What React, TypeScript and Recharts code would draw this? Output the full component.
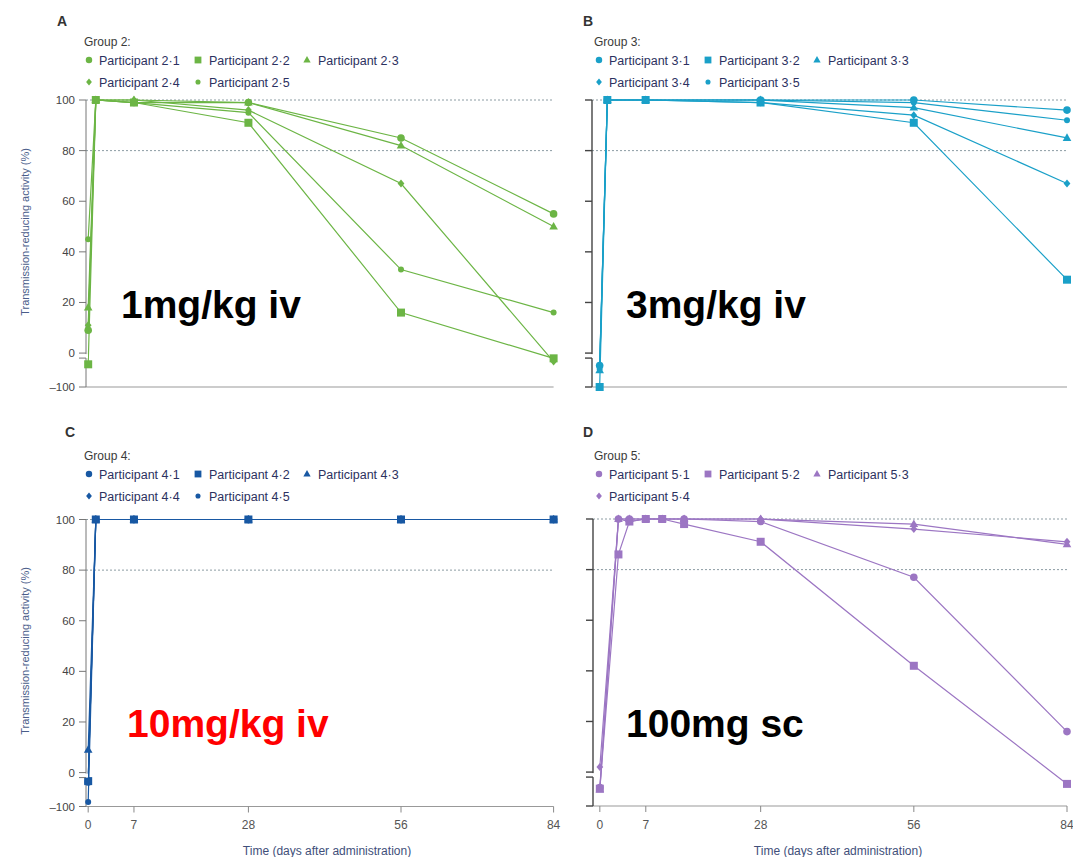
import React from "react";
import { LineChart, Line, XAxis, YAxis, ReferenceLine } from "recharts";

const FONT = '"Liberation Sans", Arial, sans-serif';

// broken y axis: everything below 0 is squeezed into a short strip under the break
const BREAK_GAP = 1.6;
const NEG_SCALE = 0.118;
const ty = (v: number) => (v >= 0 ? v : -BREAK_GAP + v * NEG_SCALE);

const PRE = -1.4; // baseline sample, drawn on the "0" tick

const daysIV = [PRE, 0, 7, 28, 56, 84];
const daysSC = [PRE, 2, 4, 7, 10, 14, 28, 56, 84];
const xTicks = [PRE, 7, 28, 56, 84];
const yTicks = [-100, 0, 20, 40, 60, 80, 100];
const refLines = [100, 80];

const shapes = ["circle", "square", "triangle", "diamond", "dot"];

// Group 2 - 1 mg/kg iv
const names2 = ["Participant 2·1", "Participant 2·2", "Participant 2·3", "Participant 2·4", "Participant 2·5"];
const p2_1 = [9, 100, 99, 99, 85, 55];
const p2_2 = [-24, 100, 99, 91, 16, -4];
const p2_3 = [18, 100, 100, 99, 82, 50];
const p2_4 = [11, 100, 100, 96, 67, -15];
const p2_5 = [45, 100, 99, 95, 33, 16];

// Group 3 - 3 mg/kg iv
const names3 = ["Participant 3·1", "Participant 3·2", "Participant 3·3", "Participant 3·4", "Participant 3·5"];
const p3_1 = [-28, 100, 100, 100, 100, 96];
const p3_2 = [-100, 100, 100, 99, 91, 29];
const p3_3 = [-44, 100, 100, 100, 97, 85];
const p3_4 = [-30, 100, 100, 99, 94, 67];
const p3_5 = [-40, 100, 100, 100, 99, 92];

// Group 4 - 10 mg/kg iv
const names4 = ["Participant 4·1", "Participant 4·2", "Participant 4·3", "Participant 4·4", "Participant 4·5"];
const p4_1 = [-18, 100, 100, 100, 100, 100];
const p4_2 = [-15, 100, 100, 100, 100, 100];
const p4_3 = [9, 100, 100, 100, 100, 100];
const p4_4 = [-12, 100, 100, 100, 100, 100];
const p4_5 = [-85, 100, 100, 100, 100, 100];

// Group 5 - 100 mg sc
const names5 = ["Participant 5·1", "Participant 5·2", "Participant 5·3", "Participant 5·4"];
const p5_1 = [-38, 100, 100, 100, 100, 100, 99, 77, 16];
const p5_2 = [-42, 86, 99, 100, 100, 98, 91, 42, -26];
const p5_3 = [-45, 100, 100, 100, 100, 100, 100, 98, 90];
const p5_4 = [2, 100, 99, 100, 100, 100, 100, 96, 91];

const GREEN = "#6cb545";
const CYAN = "#1aa0c8";
const BLUE = "#1858a3";
const PURPLE = "#9c76c3";

const Y_W = 45;

function Marker({ cx, cy, shape, color, s = 1 }: { cx: number; cy: number; shape: string; color: string; s?: number }) {
  if (cx == null || cy == null) return null;
  if (shape === "square") return <rect x={cx - 4 * s} y={cy - 4 * s} width={8 * s} height={8 * s} fill={color} />;
  if (shape === "triangle")
    return <path d={`M${cx},${cy - 4.6 * s}L${cx + 4.3 * s},${cy + 3 * s}L${cx - 4.3 * s},${cy + 3 * s}Z`} fill={color} />;
  if (shape === "diamond")
    return <path d={`M${cx},${cy - 4 * s}L${cx + 3.4 * s},${cy}L${cx},${cy + 4 * s}L${cx - 3.4 * s},${cy}Z`} fill={color} />;
  if (shape === "dot") return <circle cx={cx} cy={cy} r={3 * s} fill={color} />;
  return <circle cx={cx} cy={cy} r={3.8 * s} fill={color} />;
}

type PanelProps = {
  left: number;
  top: number;
  width: number;
  height: number;
  plot: { l: number; r: number; t: number; b: number };
  xMin: number;
  days: number[];
  series: number[][];
  color: string;
  yLabels: boolean;
  xLabels: boolean;
  axisColor: string;
  axisWidth: number;
};

function Panel(p: PanelProps) {
  const rows = p.days.map((d, i) => {
    const r: Record<string, number> = { day: d };
    p.series.forEach((s, k) => {
      r[`p${k}`] = ty(s[i]);
    });
    return r;
  });
  const xH = p.xLabels ? 40 : 20;
  const margin = {
    top: p.plot.t,
    right: p.width - p.plot.r,
    bottom: p.height - p.plot.b - xH,
    left: p.plot.l - Y_W,
  };
  const axisX = p.plot.l;

  const yTick = (props: any) => {
    const { x, y, payload } = props;
    const v = payload.value;
    return (
      <g>
        {Math.abs(v) < 1e-6 && (
          <g>
            <rect x={axisX - 2} y={y + 1} width={4} height={4} fill="#fff" />
            <line x1={axisX - 7} x2={axisX} y1={y + 5} y2={y + 5} stroke={p.axisColor} strokeWidth={p.axisWidth} />
          </g>
        )}
        {p.yLabels && (
          <text x={x} y={y} dy={4} textAnchor="end" fontSize={11.5} fill="#444" fontFamily={FONT}>
            {v < -1e-6 ? "–100" : Math.round(v)}
          </text>
        )}
      </g>
    );
  };

  return (
    <div style={{ position: "absolute", left: p.left, top: p.top }}>
      <LineChart width={p.width} height={p.height} data={rows} margin={margin}>
        <XAxis
          type="number"
          dataKey="day"
          domain={[p.xMin, 84]}
          ticks={xTicks}
          interval={0}
          height={xH}
          tickSize={6}
          tickMargin={8}
          stroke="#999"
          tickLine={{ stroke: "#888" }}
          tickFormatter={(v: number) => (v < 0 ? "0" : String(v))}
          tick={p.xLabels ? { fontSize: 12, fill: "#555", fontFamily: FONT } : false}
        />
        <YAxis
          type="number"
          domain={[ty(-100), 100]}
          ticks={yTicks.map(ty)}
          interval={0}
          width={Y_W}
          tickSize={7}
          tickMargin={4}
          axisLine={{ stroke: p.axisColor, strokeWidth: p.axisWidth }}
          tickLine={{ stroke: p.axisColor, strokeWidth: p.axisWidth }}
          tick={yTick}
        />
        {refLines.map((v) => (
          <ReferenceLine key={v} y={v} stroke="#8c9ca3" strokeDasharray="2 2" strokeWidth={1} />
        ))}
        {p.series.map((_, k) => (
          <Line
            key={k}
            type="linear"
            dataKey={`p${k}`}
            stroke={p.color}
            strokeWidth={1.2}
            isAnimationActive={false}
            activeDot={false}
            dot={(d: any) => (
              <Marker key={`d${k}-${d.index}`} cx={d.cx} cy={d.cy} shape={shapes[k]} color={p.color} />
            )}
          />
        ))}
      </LineChart>
    </div>
  );
}

function Legend({ x, y, title, names, color }: { x: number; y: number; title: string; names: string[]; color: string }) {
  const mx = [5, 114, 223];
  const tx = [15, 125, 234];
  const rowY = [y + 18, y + 40];
  return (
    <g fontFamily={FONT}>
      <text x={x} y={y + 4} fontSize={12} fill="#3a3a3a">
        {title}
      </text>
      {names.map((n, i) => {
        const row = i < 3 ? 0 : 1;
        const col = i < 3 ? i : i - 3;
        return (
          <g key={n}>
            <Marker cx={x + mx[col]} cy={rowY[row]} shape={shapes[i]} color={color} s={0.85} />
            <text x={x + tx[col]} y={rowY[row] + 4.5} fontSize={12.5} fill="#2c3160">
              {n}
            </text>
          </g>
        );
      })}
    </g>
  );
}

export default function App() {
  const yTitle = "Transmission-reducing activity (%)";
  const xTitle = "Time (days after administration)";
  return (
    <div style={{ position: "absolute", left: 0, top: 0, width: 1073, height: 857, background: "#fff" }}>
      <Panel
        left={0}
        top={0}
        width={565}
        height={420}
        plot={{ l: 86, r: 553.6, t: 100, b: 387 }}
        xMin={-1.8}
        days={daysIV}
        series={[p2_1, p2_2, p2_3, p2_4, p2_5]}
        color={GREEN}
        yLabels
        xLabels={false}
        axisColor="#777"
        axisWidth={1}
      />
      <Panel
        left={540}
        top={0}
        width={533}
        height={420}
        plot={{ l: 52, r: 527, t: 100, b: 387 }}
        xMin={-2.8}
        days={daysIV}
        series={[p3_1, p3_2, p3_3, p3_4, p3_5]}
        color={CYAN}
        yLabels={false}
        xLabels={false}
        axisColor="#444"
        axisWidth={1.4}
      />
      <Panel
        left={0}
        top={420}
        width={565}
        height={437}
        plot={{ l: 86, r: 553.6, t: 99.5, b: 386.5 }}
        xMin={-1.8}
        days={daysIV}
        series={[p4_1, p4_2, p4_3, p4_4, p4_5]}
        color={BLUE}
        yLabels
        xLabels
        axisColor="#777"
        axisWidth={1}
      />
      <Panel
        left={540}
        top={420}
        width={533}
        height={437}
        plot={{ l: 53, r: 527, t: 99, b: 386 }}
        xMin={-2.65}
        days={daysSC}
        series={[p5_1, p5_2, p5_3, p5_4]}
        color={PURPLE}
        yLabels={false}
        xLabels
        axisColor="#444"
        axisWidth={1.4}
      />
      <svg width={1073} height={857} style={{ position: "absolute", left: 0, top: 0, pointerEvents: "none" }}>
        <g fontFamily={FONT} fontWeight="bold" fontSize={14} fill="#333">
          <text x={57} y={26}>A</text>
          <text x={583} y={26}>B</text>
          <text x={65} y={437}>C</text>
          <text x={583} y={437}>D</text>
        </g>
        <Legend x={84} y={42} title="Group 2:" names={names2} color={GREEN} />
        <Legend x={594} y={42} title="Group 3:" names={names3} color={CYAN} />
        <Legend x={84} y={456} title="Group 4:" names={names4} color={BLUE} />
        <Legend x={594} y={456} title="Group 5:" names={names5} color={PURPLE} />
        <g fontFamily={FONT} fontSize={11} fill="#4a5d8a" textAnchor="middle">
          <text transform="translate(29,232) rotate(-90)">{yTitle}</text>
          <text transform="translate(29,651) rotate(-90)">{yTitle}</text>
        </g>
        <g fontFamily={FONT} fontSize={12} fill="#3f4f7a" textAnchor="middle">
          <text x={327} y={855}>{xTitle}</text>
          <text x={838} y={855}>{xTitle}</text>
        </g>
        <g fontFamily={FONT} fontWeight="bold" fontSize={39}>
          <text x={121} y={318} fill="#000">1mg/kg iv</text>
          <text x={626} y={318} fill="#000">3mg/kg iv</text>
          <text x={127} y={737} fill="#ff0000">10mg/kg iv</text>
          <text x={626} y={737} fill="#000">100mg sc</text>
        </g>
      </svg>
    </div>
  );
}
